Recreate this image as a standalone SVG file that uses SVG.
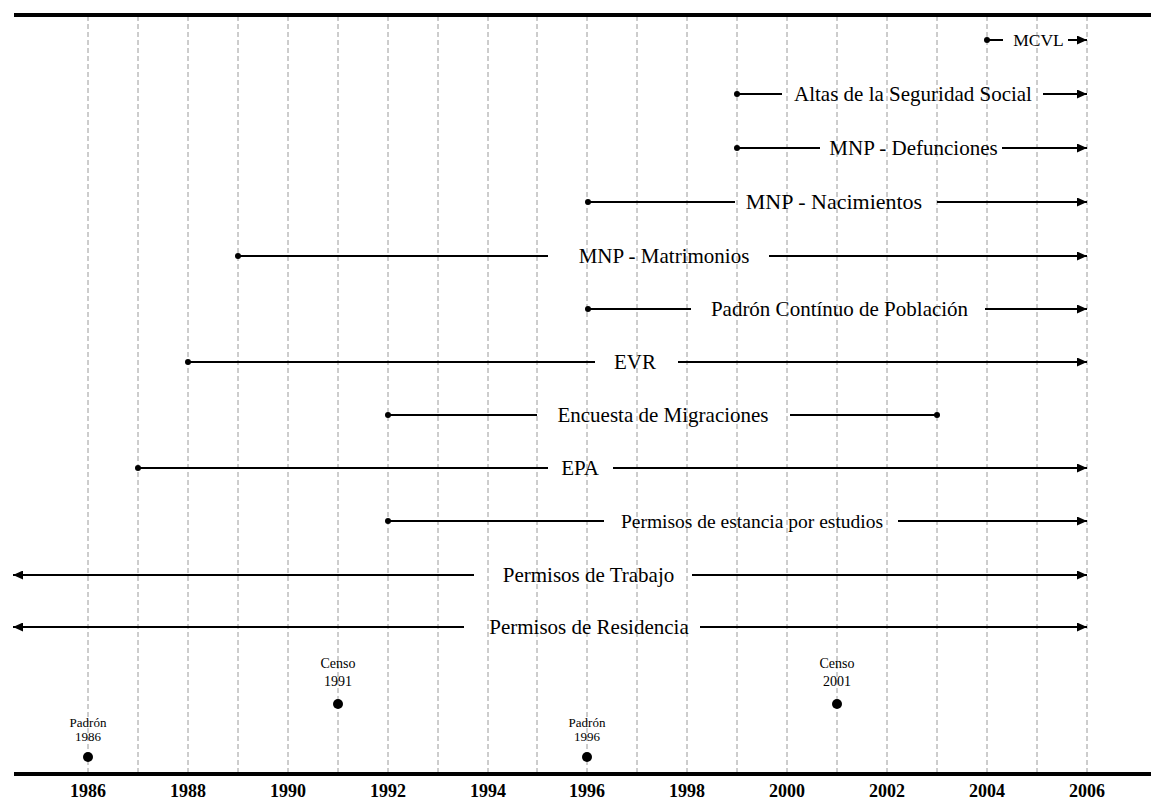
<svg xmlns="http://www.w3.org/2000/svg" width="1151" height="801" viewBox="0 0 1151 801">
<style>
.grid line{stroke:#9a9a9a;stroke-width:1;stroke-dasharray:5,3}
.axis{stroke:#000;stroke-width:4}
.seg{stroke:#000;stroke-width:2;fill:none}
.lbl{font-family:"Liberation Serif","DejaVu Serif",serif;font-size:21px;fill:#000;text-anchor:middle}
.yr{font-family:"Liberation Serif","DejaVu Serif",serif;font-size:18px;font-weight:bold;fill:#000;text-anchor:middle}
.ev{font-family:"Liberation Serif","DejaVu Serif",serif;fill:#000;text-anchor:middle}
</style>
<defs>
<marker id="arr" markerWidth="10" markerHeight="9" refX="10" refY="4.5" orient="auto" markerUnits="userSpaceOnUse">
<path d="M0,0 L10,4.5 L0,9 z" fill="#000"/>
</marker>
</defs>
<rect width="1151" height="801" fill="#fff"/>
<g class="grid" id="grid">
<line x1="88" y1="16" x2="88" y2="772"/>
<line x1="138" y1="16" x2="138" y2="772"/>
<line x1="188" y1="16" x2="188" y2="772"/>
<line x1="238" y1="16" x2="238" y2="772"/>
<line x1="288" y1="16" x2="288" y2="772"/>
<line x1="338" y1="16" x2="338" y2="772"/>
<line x1="388" y1="16" x2="388" y2="772"/>
<line x1="438" y1="16" x2="438" y2="772"/>
<line x1="488" y1="16" x2="488" y2="772"/>
<line x1="537" y1="16" x2="537" y2="772"/>
<line x1="587" y1="16" x2="587" y2="772"/>
<line x1="637" y1="16" x2="637" y2="772"/>
<line x1="687" y1="16" x2="687" y2="772"/>
<line x1="737" y1="16" x2="737" y2="772"/>
<line x1="787" y1="16" x2="787" y2="772"/>
<line x1="837" y1="16" x2="837" y2="772"/>
<line x1="887" y1="16" x2="887" y2="772"/>
<line x1="937" y1="16" x2="937" y2="772"/>
<line x1="987" y1="16" x2="987" y2="772"/>
<line x1="1037" y1="16" x2="1037" y2="772"/>
<line x1="1087" y1="16" x2="1087" y2="772"/>
</g>
<g id="axes">
<line class="axis" x1="14" y1="15" x2="1151" y2="15"/>
<line class="axis" x1="14" y1="774" x2="1151" y2="774"/>
</g>
<g id="years">
<text class="yr" x="88" y="797">1986</text>
<text class="yr" x="188" y="797">1988</text>
<text class="yr" x="288" y="797">1990</text>
<text class="yr" x="388" y="797">1992</text>
<text class="yr" x="488" y="797">1994</text>
<text class="yr" x="587" y="797">1996</text>
<text class="yr" x="687" y="797">1998</text>
<text class="yr" x="787" y="797">2000</text>
<text class="yr" x="887" y="797">2002</text>
<text class="yr" x="987" y="797">2004</text>
<text class="yr" x="1087" y="797">2006</text>
</g>
<g id="connectors">
<line class="seg" x1="987" y1="40" x2="1003" y2="40"/>
<line class="seg" x1="1068" y1="40" x2="1087" y2="40" marker-end="url(#arr)"/>
<line class="seg" x1="737" y1="94" x2="782" y2="94"/>
<line class="seg" x1="1043" y1="94" x2="1087" y2="94" marker-end="url(#arr)"/>
<line class="seg" x1="737" y1="148" x2="820" y2="148"/>
<line class="seg" x1="1002" y1="148" x2="1087" y2="148" marker-end="url(#arr)"/>
<line class="seg" x1="588" y1="202" x2="735" y2="202"/>
<line class="seg" x1="937" y1="202" x2="1087" y2="202" marker-end="url(#arr)"/>
<line class="seg" x1="238" y1="256" x2="548" y2="256"/>
<line class="seg" x1="769" y1="256" x2="1087" y2="256" marker-end="url(#arr)"/>
<line class="seg" x1="588" y1="309" x2="691" y2="309"/>
<line class="seg" x1="985" y1="309" x2="1087" y2="309" marker-end="url(#arr)"/>
<line class="seg" x1="188" y1="362" x2="595" y2="362"/>
<line class="seg" x1="678" y1="362" x2="1087" y2="362" marker-end="url(#arr)"/>
<line class="seg" x1="388" y1="415" x2="537" y2="415"/>
<line class="seg" x1="790" y1="415" x2="937" y2="415"/>
<line class="seg" x1="138" y1="468" x2="548" y2="468"/>
<line class="seg" x1="613" y1="468" x2="1087" y2="468" marker-end="url(#arr)"/>
<line class="seg" x1="388" y1="521" x2="604" y2="521"/>
<line class="seg" x1="898" y1="521" x2="1087" y2="521" marker-end="url(#arr)"/>
<line class="seg" x1="474" y1="575" x2="13" y2="575" marker-end="url(#arr)"/>
<line class="seg" x1="692" y1="575" x2="1087" y2="575" marker-end="url(#arr)"/>
<line class="seg" x1="464" y1="627" x2="13" y2="627" marker-end="url(#arr)"/>
<line class="seg" x1="700" y1="627" x2="1087" y2="627" marker-end="url(#arr)"/>
<circle cx="987" cy="40" r="3"/>
<circle cx="737" cy="94" r="3"/>
<circle cx="737" cy="148" r="3"/>
<circle cx="588" cy="202" r="3"/>
<circle cx="238" cy="256" r="3"/>
<circle cx="588" cy="309" r="3"/>
<circle cx="188" cy="362" r="3"/>
<circle cx="388" cy="415" r="3"/>
<circle cx="937" cy="415" r="3"/>
<circle cx="138" cy="468" r="3"/>
<circle cx="388" cy="521" r="3"/>
</g>
<g id="n-mcvl"><text class="lbl" style="font-size:17.5px" x="1038.5" y="46">MCVL</text></g>
<g id="n-altas"><text class="lbl" x="913" y="101">Altas de la Seguridad Social</text></g>
<g id="n-defunciones"><text class="lbl" x="913.5" y="155">MNP - Defunciones</text></g>
<g id="n-nacimientos"><text class="lbl" style="font-size:22px" x="834" y="209">MNP - Nacimientos</text></g>
<g id="n-matrimonios"><text class="lbl" x="664" y="263">MNP - Matrimonios</text></g>
<g id="n-padron"><text class="lbl" x="839.5" y="316">Padrón Contínuo de Población</text></g>
<g id="n-evr"><text class="lbl" x="635" y="369">EVR</text></g>
<g id="n-encuesta"><text class="lbl" x="663" y="422">Encuesta de Migraciones</text></g>
<g id="n-epa"><text class="lbl" x="580" y="475">EPA</text></g>
<g id="n-estancia"><text class="lbl" style="font-size:19.5px" x="752" y="528">Permisos de estancia por estudios</text></g>
<g id="n-trabajo"><text class="lbl" x="588.5" y="582">Permisos de Trabajo</text></g>
<g id="n-residencia"><text class="lbl" x="589" y="634">Permisos de Residencia</text></g>
<g id="e-padron1986">
<text class="ev" style="font-size:13px" x="88" y="727">Padrón</text>
<text class="ev" style="font-size:13px" x="88" y="741">1986</text>
<circle cx="88" cy="757" r="5"/>
</g>
<g id="e-censo1991">
<text class="ev" style="font-size:14px" x="338" y="668">Censo</text>
<text class="ev" style="font-size:14px" x="338" y="686">1991</text>
<circle cx="338" cy="704" r="5"/>
</g>
<g id="e-padron1996">
<text class="ev" style="font-size:13px" x="587" y="727">Padrón</text>
<text class="ev" style="font-size:13px" x="587" y="741">1996</text>
<circle cx="587" cy="757" r="5"/>
</g>
<g id="e-censo2001">
<text class="ev" style="font-size:14px" x="837" y="668">Censo</text>
<text class="ev" style="font-size:14px" x="837" y="686">2001</text>
<circle cx="837" cy="704" r="5"/>
</g>
</svg>
